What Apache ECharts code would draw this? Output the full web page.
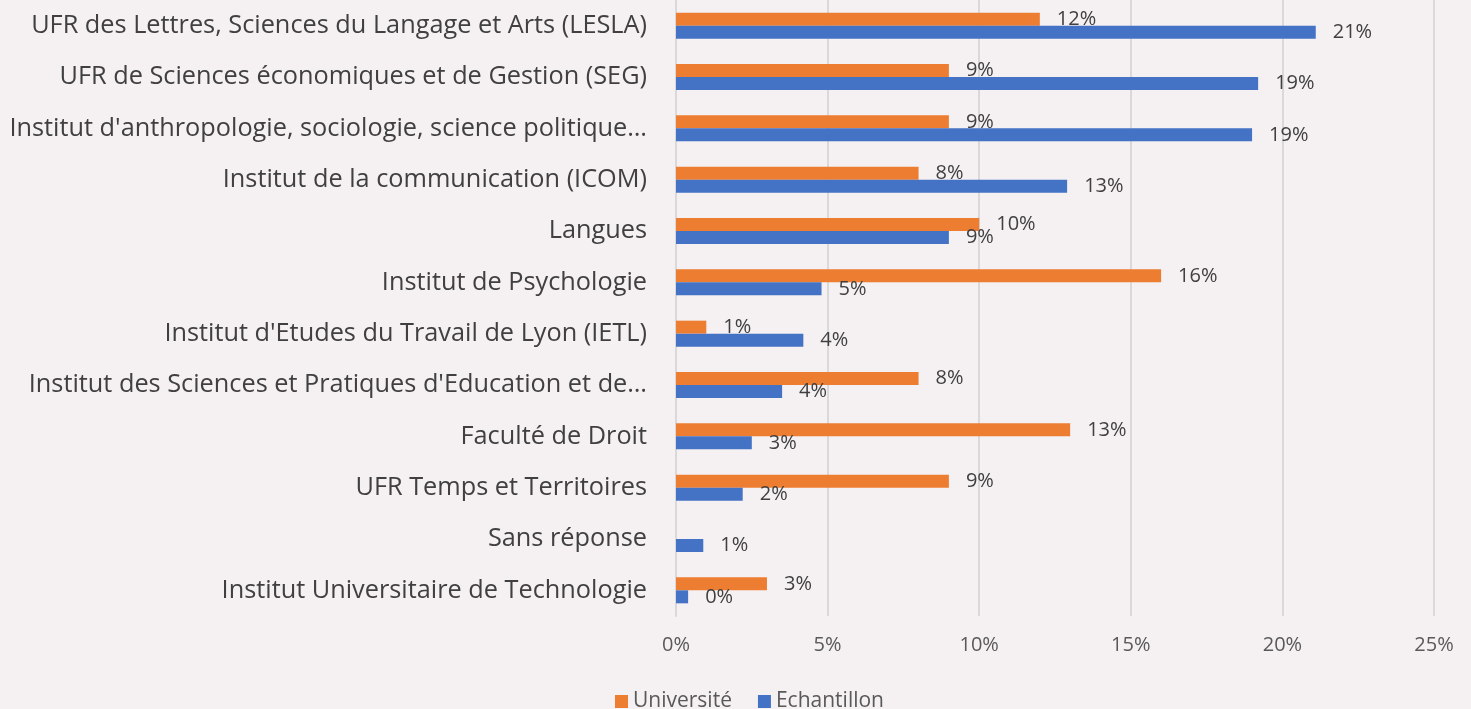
<!DOCTYPE html>
<html>
<head>
<meta charset="utf-8">
<script src="https://cdn.jsdelivr.net/npm/echarts@6/dist/echarts.min.js"></script>
<style>
    html, body { margin: 0; padding: 0; background: #f5f1f2; }
    #chart { width: 1471px; height: 709px; }
</style>
</head>
<body>
<div id="chart"></div>
<script>
// categories, top to bottom
var categories = [
    "UFR des Lettres, Sciences du Langage et Arts (LESLA)",
    "UFR de Sciences économiques et de Gestion (SEG)",
    "Institut d'anthropologie, sociologie, science politique…",
    "Institut de la communication (ICOM)",
    "Langues",
    "Institut de Psychologie",
    "Institut d'Etudes du Travail de Lyon (IETL)",
    "Institut des Sciences et Pratiques d'Education et de…",
    "Faculté de Droit",
    "UFR Temps et Territoires",
    "Sans réponse",
    "Institut Universitaire de Technologie"
];
var universite = [12, 9, 9, 8, 10, 16, 1, 8, 13, 9, 0, 3];
var echantillon = [21.1, 19.2, 19.0, 12.9, 9.0, 4.8, 4.2, 3.5, 2.5, 2.2, 0.9, 0.4];
var ticks = [0, 5, 10, 15, 20, 25];

var font = 'Open Sans';

function JzfqChart(id) {
    this.myChart = echarts.init(document.getElementById(id));
}
JzfqChart.prototype = {
    init: function () {
        var labelStyle = {
            show: true,
            position: 'right',
            distance: 17,
            fontFamily: font,
            fontSize: 20,
            color: '#404040',
            formatter: function (p) {
                return Math.round(p.value) + '%';
            }
        };
        var option = {
            backgroundColor: '#f5f1f2',
            animation: false,
            grid: {
                left: 676,
                right: 37,
                top: 0,
                bottom: 93
            },
            legend: {
                top: 686,
                left: 610,
                itemWidth: 13,
                itemHeight: 13,
                itemGap: 26,
                icon: 'rect',
                textStyle: {
                    fontFamily: font,
                    fontSize: 21,
                    color: '#595959'
                },
                data: ['Université', 'Echantillon']
            },
            xAxis: {
                type: 'value',
                min: ticks[0],
                max: ticks[ticks.length - 1],
                interval: 5,
                axisLabel: {
                    formatter: '{value}%',
                    fontFamily: font,
                    fontSize: 20,
                    color: '#595959',
                    margin: 19
                },
                axisLine: { show: false },
                axisTick: { show: false },
                splitLine: {
                    show: true,
                    lineStyle: { color: '#d9d9d9', width: 2 }
                }
            },
            yAxis: {
                type: 'category',
                inverse: true,
                data: categories,
                axisLabel: {
                    fontFamily: font,
                    fontSize: 25.3,
                    color: '#404040',
                    margin: 29
                },
                axisLine: { show: true, lineStyle: { color: '#d9d9d9', width: 2 } },
                axisTick: { show: false }
            },
            series: [{
                name: 'Université',
                type: 'bar',
                barWidth: 13,
                barGap: '0%',
                itemStyle: { color: '#ed7d31' },
                label: labelStyle,
                data: universite.map(function (v) { return v === 0 ? null : v; })
            }, {
                name: 'Echantillon',
                type: 'bar',
                barWidth: 13,
                barGap: '0%',
                itemStyle: { color: '#4472c4' },
                label: labelStyle,
                data: echantillon
            }]
        };
        this.myChart.setOption(option, true);
    }
};

var chart = new JzfqChart('chart');
chart.init();
</script>
</body>
</html>
